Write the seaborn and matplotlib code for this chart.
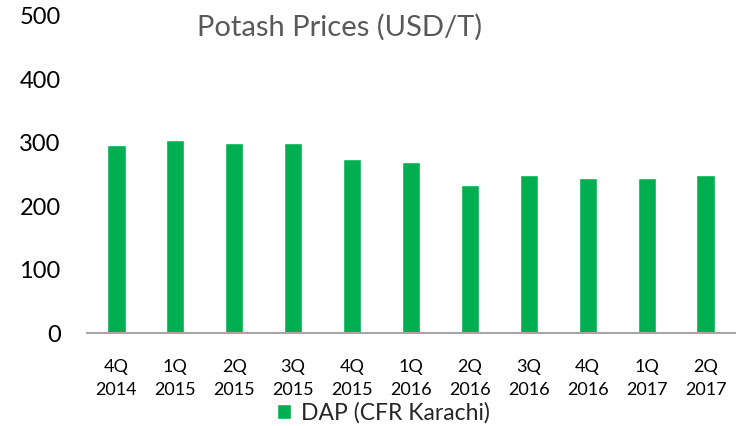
import numpy as np
import pandas as pd
import matplotlib
matplotlib.use("Agg")
import matplotlib.pyplot as plt
import seaborn as sns

quarters = ["4Q\n2014", "1Q\n2015", "2Q\n2015", "3Q\n2015", "4Q\n2015", "1Q\n2016",
            "2Q\n2016", "3Q\n2016", "4Q\n2016", "1Q\n2017", "2Q\n2017"]
dap_prices = [296, 304, 299, 299, 274, 269, 234, 249, 244, 244, 249]

df = pd.DataFrame({"Quarter": quarters, "Price": dap_prices})

sns.set_theme(style="white")
plt.rcParams['font.family'] = ['Lato', 'DejaVu Sans']

fig = plt.figure(figsize=(7.36, 4.26), dpi=100)
ax = fig.add_axes([87/736, 1 - 333/426, 648/736, (333 - 16)/426])

sns.barplot(data=df, x="Quarter", y="Price", color="#00b050", width=0.31,
            saturation=1, label="DAP (CFR Karachi)", ax=ax)
if ax.get_legend() is not None:
    ax.get_legend().remove()

ax.set_xlim(-0.5, 10.5)
ax.set_ylim(0, 500)
ax.set_yticks([0, 100, 200, 300, 400, 500])
ax.set_xlabel("")
ax.set_ylabel("")
ax.tick_params(axis="y", length=0, pad=19, labelsize=17, labelcolor="#000000")
ax.tick_params(axis="x", length=0, pad=19, labelsize=13, labelcolor="#000000")
for lab in ax.get_xticklabels():
    lab.set_linespacing(1.5)

for s in ["top", "right", "left"]:
    ax.spines[s].set_visible(False)
ax.spines["bottom"].set_color("#a6a6a6")
ax.spines["bottom"].set_linewidth(1.5)

fig.text(340/736, 1 - 27/426, "Potash Prices (USD/T)", ha="center", va="center",
         fontsize=21, color="#595959")

fig.legend(loc="center", bbox_to_anchor=(383/736, 1 - 413/426), frameon=False,
           fontsize=16.5, handlelength=0.65, handleheight=0.65, handletextpad=0.4)

fig.savefig("out.png", dpi=100)
